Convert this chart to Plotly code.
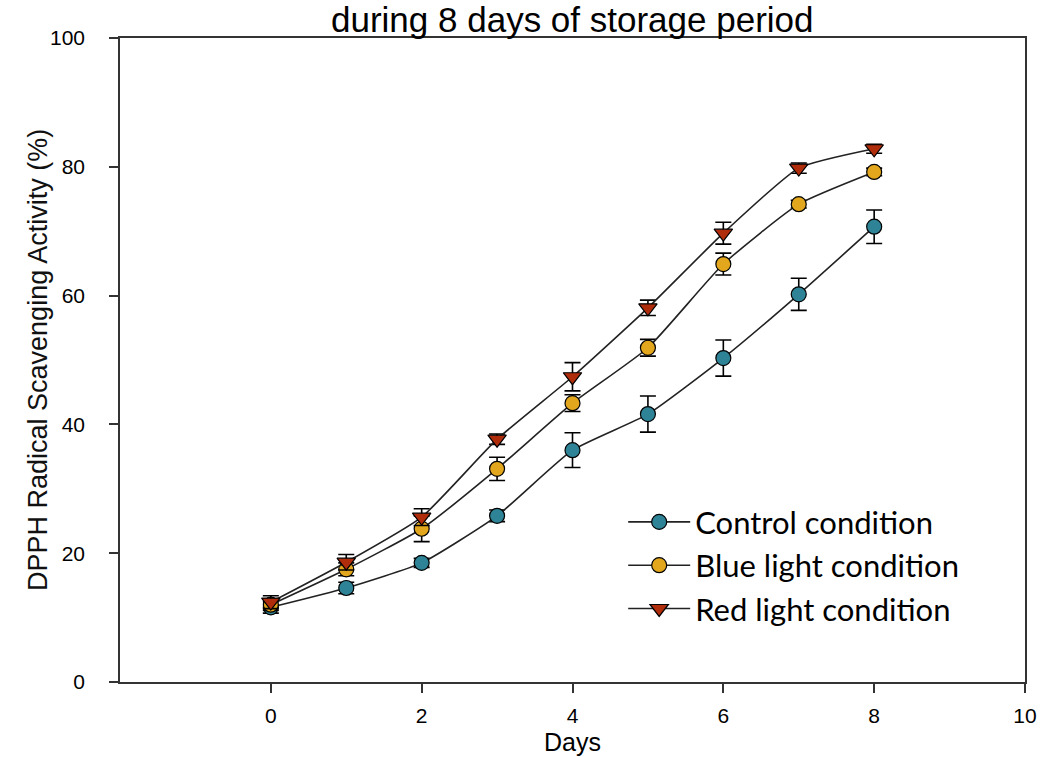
import plotly.graph_objects as go

days = [0, 1, 2, 3, 4, 5, 6, 7, 8]
control = [11.6, 14.6, 18.5, 25.8, 36.0, 41.6, 50.3, 60.2, 70.7]
control_err = [0.9, 0.9, 0.7, 0.9, 2.7, 2.8, 2.8, 2.5, 2.6]
blue = [12.0, 17.5, 23.8, 33.1, 43.3, 51.9, 64.9, 74.2, 79.2]
blue_err = [0.9, 1.0, 2.0, 1.8, 1.3, 1.3, 1.7, 0.6, 0.6]
red = [12.4, 18.6, 25.6, 37.7, 47.4, 58.1, 69.7, 79.8, 82.8]
red_err = [1.0, 1.2, 1.3, 0.8, 2.2, 1.2, 1.7, 0.8, 0.7]

names = ["Control condition", "Blue light condition", "Red light condition"]
colors = ["#2f8396", "#e3a71d", "#b02d0c"]
symbols = ["circle", "circle", "triangle-down"]
series = [control, blue, red]
errs = [control_err, blue_err, red_err]

fig = go.Figure()
for i in range(3):
    fig.add_trace(go.Scatter(
        x=days, y=series[i], name=names[i], mode="lines+markers",
        legendgroup=f"g{i}",
        line=dict(color="#222222", width=1.6, shape="spline", smoothing=0.5),
        marker=dict(symbol=symbols[i], size=15 if symbols[i] == "circle" else 16,
                    color=colors[i], line=dict(color="black", width=1.2)),
        error_y=dict(type="data", array=errs[i], visible=True, color="black",
                     thickness=1.6, width=8),
    ))

fig.update_layout(
    width=1052, height=757,
    margin=dict(l=120, r=27, t=38, b=75, autoexpand=False),
    paper_bgcolor="white", plot_bgcolor="white",
    showlegend=True,
    legend=dict(x=0.556, y=0.29, xanchor="left", yanchor="top",
                font=dict(family="Lato, Open Sans, sans-serif", size=31, color="black"),
                itemwidth=62, tracegroupgap=0, bgcolor="rgba(0,0,0,0)",
                traceorder="grouped"),
    annotations=[
        dict(text="during 8 days of storage period", x=0.5, y=1,
             xref="paper", yref="paper", xanchor="center", yanchor="bottom",
             yshift=-3, showarrow=False,
             font=dict(family="Liberation Sans, Arial, sans-serif", size=35, color="black")),
        dict(text="DPPH Radical Scavenging Activity (%)", x=0, y=0.5,
             xref="paper", yref="paper", xanchor="center", yanchor="middle",
             xshift=-82, textangle=-90, showarrow=False,
             font=dict(family="Liberation Sans, Arial, sans-serif", size=27, color="#111111")),
        dict(text="Days", x=0.5, y=0, xref="paper", yref="paper",
             xanchor="center", yanchor="bottom", yshift=-76, showarrow=False,
             font=dict(family="Liberation Sans, Arial, sans-serif", size=25, color="black")),
    ],
)
fig.update_xaxes(
    range=[-2, 10], tickvals=[0, 2, 4, 6, 8, 10], ticks="outside", ticklen=9,
    tickwidth=1.5, tickcolor="#333333", showline=True, linecolor="#333333", linewidth=1.5,
    mirror=True, showgrid=False, zeroline=False, ticklabelstandoff=5, automargin=False,
    tickfont=dict(family="Liberation Sans, Arial, sans-serif", size=21, color="black"),
)
fig.update_yaxes(
    range=[0, 100], tickvals=[0, 20, 40, 60, 80, 100], ticks="outside", ticklen=9,
    tickwidth=1.5, tickcolor="#333333", showline=True, linecolor="#333333", linewidth=1.5,
    mirror=True, showgrid=False, zeroline=False, ticklabelstandoff=20, automargin=False,
    tickfont=dict(family="Liberation Sans, Arial, sans-serif", size=21, color="black"),
)

fig.write_html("out.html")
